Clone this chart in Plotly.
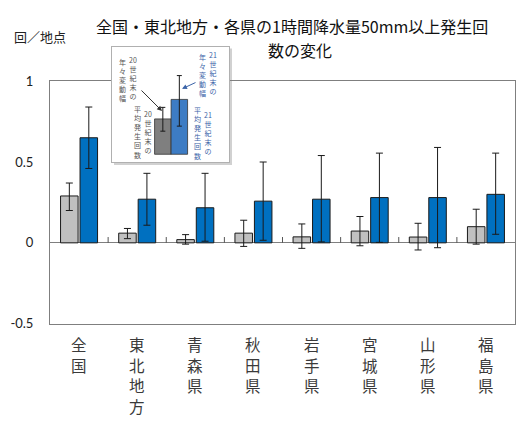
import plotly.graph_objects as go

# Categories and values (回/地点)
categories = ["全国", "東北地方", "青森県", "秋田県", "岩手県", "宮城県", "山形県", "福島県"]
c20_mean = [0.29, 0.06, 0.02, 0.06, 0.037, 0.073, 0.036, 0.10]
c20_upper = [0.37, 0.089, 0.051, 0.14, 0.117, 0.163, 0.121, 0.208]
c20_lower = [0.20, 0.026, -0.008, -0.022, -0.034, -0.018, -0.044, -0.008]
c21_mean = [0.65, 0.27, 0.217, 0.258, 0.27, 0.28, 0.28, 0.30]
c21_upper = [0.84, 0.43, 0.43, 0.50, 0.54, 0.555, 0.59, 0.555]
c21_lower = [0.46, 0.109, 0.01, 0.016, 0.006, 0.003, -0.03, 0.053]

y_tickvals = [-0.5, 0, 0.5, 1]
y_ticktext = ["-0.5", "0", "0.5", "1"]

# Explanatory key: sample bar heights and variability ranges
key_mean = [0.49, 0.76]
key_upper = [0.65, 1.09]
key_lower = [0.32, 0.39]

W, H = 529, 427
JP = "Noto Sans CJK JP"
NUM = "Lato"


def stacked(txt):
    """Vertical writing: one character per line, digits kept together."""
    out, buf = [], ""
    for ch in txt:
        if ch.isdigit():
            buf += ch
        else:
            if buf:
                out.append(buf)
                buf = ""
            out.append(ch)
    if buf:
        out.append(buf)
    return "<br>".join(out)


x_idx = list(range(len(categories)))

fig = go.Figure()

fig.add_trace(go.Bar(
    x=x_idx, y=c20_mean, name="20世紀末",
    marker=dict(color="#c0c0c0", line=dict(color="#1a1a1a", width=1)),
    error_y=dict(type="data", symmetric=False,
                 array=[u - m for u, m in zip(c20_upper, c20_mean)],
                 arrayminus=[m - l for l, m in zip(c20_lower, c20_mean)],
                 color="#1a1a1a", thickness=1, width=3.5),
    showlegend=False,
))
fig.add_trace(go.Bar(
    x=x_idx, y=c21_mean, name="21世紀末",
    marker=dict(color="#0070c0", line=dict(color="#1a1a1a", width=1)),
    error_y=dict(type="data", symmetric=False,
                 array=[u - m for u, m in zip(c21_upper, c21_mean)],
                 arrayminus=[m - l for l, m in zip(c21_lower, c21_mean)],
                 color="#1a1a1a", thickness=1, width=3.5),
    showlegend=False,
))

# Key inset bars
fig.add_trace(go.Bar(
    x=[0], y=[key_mean[0]], width=[1], offset=-1, xaxis="x3", yaxis="y3",
    marker=dict(color="#7f7f7f", line=dict(color="#333333", width=0.8)),
    error_y=dict(type="data", symmetric=False, array=[key_upper[0] - key_mean[0]],
                 arrayminus=[key_mean[0] - key_lower[0]], color="#1a1a1a",
                 thickness=1, width=2.5),
    showlegend=False,
))
fig.add_trace(go.Bar(
    x=[0], y=[key_mean[1]], width=[1], offset=0, xaxis="x3", yaxis="y3",
    marker=dict(color="#3d7cc4", line=dict(color="#333333", width=0.8)),
    error_y=dict(type="data", symmetric=False, array=[key_upper[1] - key_mean[1]],
                 arrayminus=[key_mean[1] - key_lower[1]], color="#1a1a1a",
                 thickness=1, width=2.5),
    showlegend=False,
))

# plot area in pixels
L, R, T, B = 50, 515, 76, 328

# small upward ticks on the zero line between categories
shapes = []
for i in range(1, len(categories)):
    shapes.append(dict(type="line", xref="x", yref="y", x0=i - 0.5, x1=i - 0.5,
                       y0=0, y1=0.036, line=dict(color="#555555", width=1)))

# key box shadow
kx0, kx1, ky0, ky1 = 112, 229, 40, 160
shapes.append(dict(type="rect", xref="paper", yref="paper", layer="below",
                   x0=(kx0 + 2) / W, x1=(kx1 + 3) / W,
                   y0=1 - (ky1 + 3) / H, y1=1 - (ky0 + 2) / H,
                   line=dict(width=0), fillcolor="rgba(0,0,0,0.18)"))

annotations = []
# title
annotations.append(dict(text="全国・東北地方・各県の1時間降水量50mm以上発生回",
                        x=292 / W, y=1 - 19 / H, xref="paper", yref="paper",
                        showarrow=False, xanchor="center", yanchor="middle",
                        font=dict(family=JP, size=16, color="#111111")))
annotations.append(dict(text="数の変化", x=300 / W, y=1 - 44 / H, xref="paper", yref="paper",
                        showarrow=False, xanchor="center", yanchor="middle",
                        font=dict(family=JP, size=16, color="#111111")))
# unit label
annotations.append(dict(text="回／地点", x=12 / W, y=1 - 30 / H, xref="paper", yref="paper",
                        showarrow=False, xanchor="left", yanchor="middle",
                        font=dict(family=JP, size=13, color="#222222")))

# category labels written vertically, one character per row below the axis
LABEL_TOP, LABEL_PITCH = 349, 21.5
for i, cat in enumerate(categories):
    for k, ch in enumerate(cat):
        annotations.append(dict(text=ch, x=i, xref="x",
                                y=1 - (LABEL_TOP + k * LABEL_PITCH) / H, yref="paper",
                                showarrow=False, xanchor="center", yanchor="middle",
                                borderpad=0,
                                font=dict(family=JP, size=15.5, color="#3a3a3a")))

# key texts (vertical)
GRAY_T = "#555555"
BLUE_T = "#3b64a8"


def vtext(txt, xc, ytop, color):
    annotations.append(dict(text=stacked(txt), x=xc / W, y=1 - ytop / H,
                            xref="paper", yref="paper", showarrow=False,
                            xanchor="center", yanchor="top", borderpad=0,
                            font=dict(family=JP, size=7, color=color)))


vtext("20世紀末の", 133, 48, GRAY_T)
vtext("年々変動幅", 122, 50, GRAY_T)
vtext("20世紀末の", 148, 104, GRAY_T)
vtext("平均発生回数", 137, 99, GRAY_T)
vtext("21世紀末の", 213, 43, BLUE_T)
vtext("年々変動幅", 202, 45, BLUE_T)
vtext("21世紀末の", 208, 105, BLUE_T)
vtext("平均発生回数", 197, 100, BLUE_T)

# key arrows
annotations.append(dict(x=162 / W, y=1 - 107 / H, xref="paper", yref="paper",
                        ax=140 - 162, ay=85 - 107, text="", showarrow=True,
                        arrowhead=2, arrowsize=1, arrowwidth=1, arrowcolor="#333333"))
annotations.append(dict(x=182 / W, y=1 - 84 / H, xref="paper", yref="paper",
                        ax=197 - 182, ay=77 - 84, text="", showarrow=True,
                        arrowhead=2, arrowsize=1, arrowwidth=1, arrowcolor=BLUE_T))

fig.update_layout(
    width=W, height=H,
    margin=dict(l=0, r=0, t=0, b=0),
    paper_bgcolor="white", plot_bgcolor="white",
    barmode="group", bargap=0.33, bargroupgap=0.1,
    shapes=shapes, annotations=annotations,
    xaxis=dict(domain=[L / W, R / W], range=[-0.5, len(categories) - 0.5],
               showticklabels=False, ticks="", showgrid=False, zeroline=False,
               showline=True, mirror=True, linecolor="#7f7f7f", linewidth=1,
               fixedrange=True),
    yaxis=dict(domain=[1 - B / H, 1 - T / H], range=[-0.5, 1],
               tickvals=y_tickvals, ticktext=y_ticktext, ticks="",
               showgrid=False, zeroline=True, zerolinecolor="#7f7f7f", zerolinewidth=1,
               showline=True, mirror=True, linecolor="#7f7f7f", linewidth=1,
               tickfont=dict(family=NUM, size=13, color="#222222"),
               ticklabelstandoff=13),
    xaxis3=dict(domain=[kx0 / W, kx1 / W], range=[-3.58, 3.51], anchor="y3",
                showticklabels=False, ticks="", showgrid=False, zeroline=False,
                showline=True, mirror=True, linecolor="#b0b0b0", linewidth=1),
    yaxis3=dict(domain=[1 - ky1 / H, 1 - ky0 / H], range=[-0.107, 1.493], anchor="x3",
                showticklabels=False, ticks="", showgrid=False, zeroline=False,
                showline=True, mirror=True, linecolor="#b0b0b0", linewidth=1),
)

fig.write_html("out.html")
